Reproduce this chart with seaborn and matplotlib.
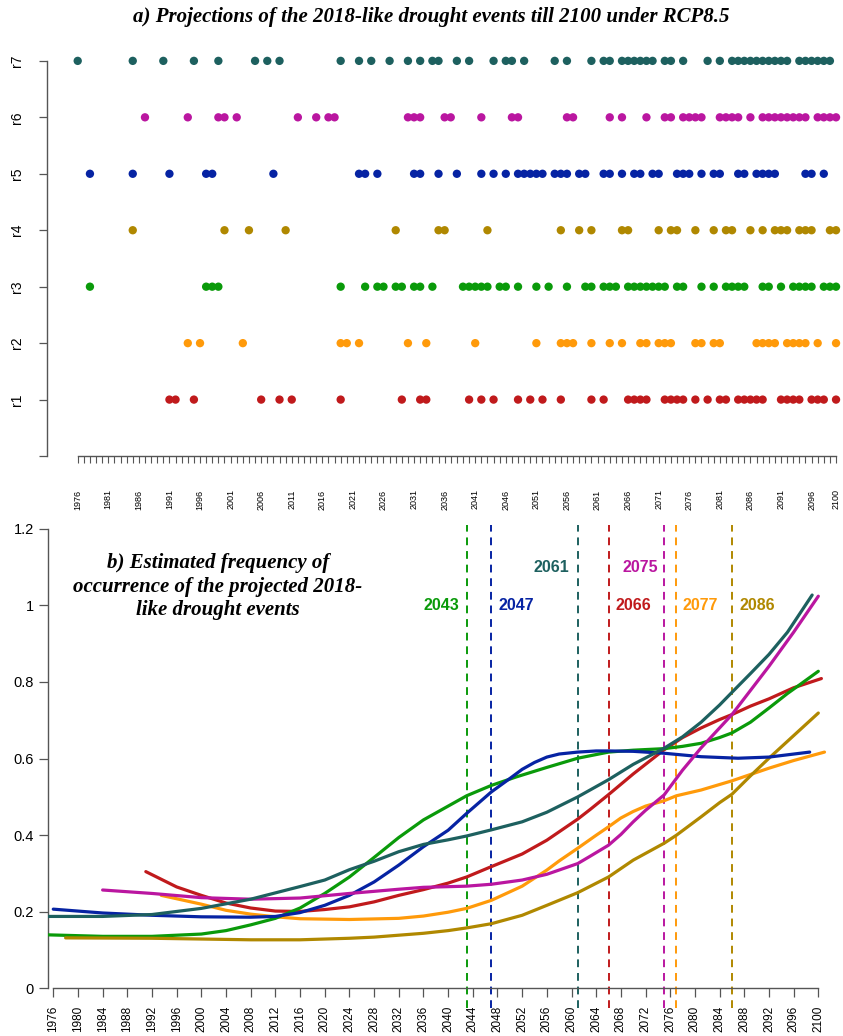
import numpy as np
import pandas as pd
import matplotlib
matplotlib.use("Agg")
import matplotlib.pyplot as plt
import seaborn as sns

sns.set_style("white")
plt.rcParams['font.family'] = ['Liberation Sans', 'DejaVu Sans']
plt.rcParams['text.color'] = 'black'
plt.rcParams['xtick.labelcolor'] = 'black'
plt.rcParams['ytick.labelcolor'] = 'black'

# Years with a 2018-like drought event, one list per run
r1 = [1991, 1992, 1995, 2006, 2009, 2011, 2019, 2029, 2032, 2033, 2040, 2042, 2044, 2048, 2050,
      2052, 2055, 2060, 2062, 2066, 2067, 2068, 2069, 2072, 2073, 2074, 2075, 2077, 2079, 2081,
      2082, 2084, 2085, 2086, 2087, 2088, 2091, 2092, 2093, 2094, 2096, 2097, 2098, 2100]
r2 = [1994, 1996, 2003, 2019, 2020, 2022, 2030, 2033, 2041, 2051, 2055, 2056, 2057, 2060, 2063,
      2065, 2068, 2069, 2071, 2072, 2073, 2077, 2078, 2080, 2081, 2087, 2088, 2089, 2090, 2092,
      2093, 2094, 2095, 2097, 2100]
r3 = [1978, 1997, 1998, 1999, 2019, 2023, 2025, 2026, 2028, 2029, 2031, 2032, 2034, 2039, 2040,
      2041, 2042, 2043, 2045, 2046, 2048, 2051, 2053, 2056, 2059, 2060, 2062, 2063, 2064, 2066,
      2067, 2068, 2069, 2070, 2071, 2072, 2074, 2075, 2078, 2080, 2082, 2083, 2084, 2085, 2088,
      2089, 2091, 2093, 2094, 2095, 2096, 2098, 2099, 2100]
r4 = [1985, 2000, 2004, 2010, 2028, 2035, 2036, 2043, 2055, 2058, 2060, 2065, 2066, 2071, 2073,
      2074, 2077, 2080, 2082, 2083, 2086, 2088, 2090, 2091, 2092, 2094, 2095, 2096, 2099, 2100]
r5 = [1978, 1985, 1991, 1997, 1998, 2008, 2022, 2023, 2025, 2031, 2032, 2035, 2038, 2042, 2044,
      2046, 2048, 2049, 2050, 2051, 2052, 2054, 2055, 2056, 2058, 2059, 2062, 2063, 2065, 2067,
      2068, 2070, 2071, 2074, 2075, 2076, 2078, 2080, 2081, 2084, 2085, 2087, 2088, 2089, 2090,
      2095, 2096, 2098]
r6 = [1987, 1994, 1999, 2000, 2002, 2012, 2015, 2017, 2018, 2030, 2031, 2032, 2036, 2037, 2042,
      2047, 2048, 2056, 2057, 2063, 2065, 2069, 2072, 2073, 2075, 2076, 2077, 2078, 2081, 2082,
      2083, 2084, 2086, 2088, 2089, 2090, 2091, 2092, 2093, 2094, 2095, 2097, 2098, 2099, 2100]
r7 = [1976, 1985, 1990, 1995, 1999, 2005, 2007, 2009, 2019, 2022, 2024, 2027, 2030, 2032, 2034,
      2035, 2038, 2040, 2044, 2046, 2047, 2049, 2054, 2056, 2060, 2062, 2063, 2065, 2066, 2067,
      2068, 2069, 2070, 2072, 2073, 2075, 2079, 2081, 2083, 2084, 2085, 2086, 2087, 2088, 2089,
      2090, 2091, 2092, 2094, 2095, 2096, 2097, 2098, 2099]

# Estimated frequency of occurrence
r1_yr = [1991, 1996, 2000, 2004, 2008, 2012, 2016, 2020, 2024, 2028, 2032, 2036, 2040, 2043, 2047,
         2052, 2056, 2061, 2063, 2066, 2070, 2075, 2078, 2081, 2084, 2086, 2089, 2092, 2096, 2100.5]
r1_fq = [0.305, 0.265, 0.243, 0.223, 0.210, 0.202, 0.201, 0.206, 0.213, 0.226, 0.243, 0.258, 0.275,
         0.291, 0.318, 0.351, 0.387, 0.442, 0.467, 0.506, 0.560, 0.623, 0.655, 0.680, 0.702, 0.715,
         0.737, 0.756, 0.785, 0.809]
r2_yr = [1993.5, 2000, 2004, 2008, 2012, 2016, 2024, 2032, 2036, 2040, 2043, 2047, 2052, 2056, 2058,
         2061, 2064, 2066, 2068, 2070, 2072, 2075, 2077, 2081, 2086, 2092, 2096, 2101]
r2_fq = [0.243, 0.220, 0.204, 0.194, 0.187, 0.182, 0.180, 0.183, 0.189, 0.199, 0.209, 0.230, 0.267,
         0.309, 0.333, 0.366, 0.400, 0.422, 0.445, 0.462, 0.476, 0.490, 0.503, 0.518, 0.542, 0.575,
         0.595, 0.617]
r3_yr = [1975, 1984, 1992, 2000, 2004, 2008, 2012, 2016, 2020, 2024, 2028, 2032, 2036, 2040, 2043,
         2047, 2051, 2056, 2061, 2066, 2070, 2075, 2078, 2081, 2084, 2086, 2089, 2092, 2095, 2097,
         2100]
r3_fq = [0.140, 0.136, 0.136, 0.142, 0.151, 0.166, 0.183, 0.210, 0.248, 0.291, 0.342, 0.394, 0.440,
         0.476, 0.503, 0.530, 0.552, 0.577, 0.601, 0.617, 0.622, 0.626, 0.632, 0.640, 0.655, 0.667,
         0.695, 0.732, 0.770, 0.793, 0.828]
r4_yr = [1978, 1992, 2000, 2008, 2016, 2024, 2028, 2032, 2036, 2040, 2043, 2047, 2052, 2056, 2061,
         2066, 2070, 2075, 2077, 2081, 2084, 2086, 2089, 2092, 2096, 2100]
r4_fq = [0.132, 0.131, 0.129, 0.127, 0.127, 0.131, 0.134, 0.139, 0.144, 0.151, 0.158, 0.169, 0.191,
         0.217, 0.250, 0.291, 0.335, 0.379, 0.400, 0.448, 0.485, 0.507, 0.555, 0.601, 0.660, 0.719]
r5_yr = [1976, 1984, 1992, 2000, 2008, 2012, 2016, 2020, 2024, 2028, 2032, 2036, 2040, 2043, 2047,
         2050, 2052, 2054, 2056, 2058, 2061, 2064, 2066, 2070, 2075, 2081, 2087, 2092, 2098.6]
r5_fq = [0.207, 0.197, 0.191, 0.187, 0.186, 0.188, 0.198, 0.217, 0.243, 0.278, 0.322, 0.370, 0.413,
         0.457, 0.513, 0.548, 0.572, 0.590, 0.604, 0.612, 0.617, 0.620, 0.620, 0.619, 0.614, 0.605,
         0.601, 0.604, 0.617]
r6_yr = [1984, 1992, 2000, 2008, 2016, 2024, 2032, 2036, 2043, 2047, 2052, 2056, 2061, 2063, 2066,
         2068, 2070, 2072, 2075, 2078, 2081, 2086, 2089, 2092, 2096, 2100]
r6_fq = [0.257, 0.248, 0.237, 0.233, 0.236, 0.248, 0.259, 0.264, 0.267, 0.272, 0.283, 0.298, 0.326,
         0.345, 0.374, 0.402, 0.435, 0.465, 0.505, 0.570, 0.628, 0.715, 0.778, 0.841, 0.930, 1.024]
r7_yr = [1975, 1984, 1992, 2000, 2008, 2016, 2020, 2024, 2028, 2032, 2036, 2040, 2043, 2047, 2052,
         2056, 2061, 2066, 2070, 2075, 2078, 2081, 2084, 2086, 2089, 2092, 2095, 2099]
r7_fq = [0.188, 0.188, 0.193, 0.209, 0.233, 0.266, 0.283, 0.310, 0.332, 0.357, 0.376, 0.388, 0.398,
         0.414, 0.435, 0.460, 0.500, 0.545, 0.585, 0.627, 0.657, 0.695, 0.740, 0.773, 0.822, 0.872,
         0.930, 1.027]

# Year each run's frequency reaches 0.5
cross_year = {'r3': 2043, 'r5': 2047, 'r7': 2061, 'r1': 2066, 'r6': 2075, 'r2': 2077, 'r4': 2086}

runs = ['r1', 'r2', 'r3', 'r4', 'r5', 'r6', 'r7']
colors = {'r1': '#C01A1C', 'r2': '#FF9A0A', 'r3': '#0A9A0A', 'r4': '#B08800',
          'r5': '#0623A3', 'r6': '#BA16A0', 'r7': '#1D605F'}

events = {'r1': r1, 'r2': r2, 'r3': r3, 'r4': r4, 'r5': r5, 'r6': r6, 'r7': r7}
curves = {'r1': (r1_yr, r1_fq), 'r2': (r2_yr, r2_fq), 'r3': (r3_yr, r3_fq), 'r4': (r4_yr, r4_fq),
          'r5': (r5_yr, r5_fq), 'r6': (r6_yr, r6_fq), 'r7': (r7_yr, r7_fq)}

ev_df = pd.concat([pd.DataFrame({'run': r, 'year': events[r], 'row': i + 1}) for i, r in enumerate(runs)],
                  ignore_index=True)
cv_df = pd.concat([pd.DataFrame({'run': r, 'year': curves[r][0], 'freq': curves[r][1]}) for r in runs],
                  ignore_index=True)

fig = plt.figure(figsize=(8.43, 10.36), dpi=100)
ax1 = fig.add_axes([0.0554, 0.5598, 0.9446, 0.3967])
ax2 = fig.add_axes([0.0566, 0.0459, 0.9434, 0.4474])

axis_col = '#555555'

# ---- panel a: event dots
sns.scatterplot(data=ev_df, x='year', y='row', hue='run', palette=colors, s=36, linewidth=0,
                legend=False, ax=ax1, zorder=3)
ax1.set_xlim(1970.93, 2101.14)
ax1.set_ylim(0, 7.28)
ax1.set_xlabel('')
ax1.set_ylabel('')
for s in ['top', 'right']:
    ax1.spines[s].set_visible(False)
ax1.spines['left'].set_bounds(0, 7)
ax1.spines['bottom'].set_bounds(1976, 2100)
for s in ['left', 'bottom']:
    ax1.spines[s].set_color(axis_col)
    ax1.spines[s].set_linewidth(1.0)
yrs = np.arange(1976, 2101)
ax1.set_xticks(yrs)
ax1.set_xticklabels([str(y) if ((y - 1976) % 5 == 0 or y == 2100) else '' for y in yrs],
                    rotation=90, fontsize=6.5)
ax1.set_yticks(range(8))
ax1.set_yticklabels([''] + runs, rotation=90, fontsize=10, va='center')
ax1.tick_params(axis='x', direction='out', length=5, width=0.8, color=axis_col, pad=19, bottom=True)
ax1.tick_params(axis='y', direction='out', length=6, width=0.9, color=axis_col, pad=10, left=True)

fig.text(0.512, 1 - 17 / 1036, 'a) Projections of the 2018-like drought events till 2100 under RCP8.5',
         ha='center', va='center', fontsize=15, fontweight='bold', fontstyle='italic',
         family=['Liberation Serif', 'DejaVu Serif'])

# ---- panel b: frequency curves
sns.lineplot(data=cv_df, x='year', y='freq', hue='run', palette=colors, linewidth=2.3,
             estimator=None, sort=True, legend=False, ax=ax2, zorder=3)
ax2.set_xlim(1975.1, 2104)
ax2.set_ylim(0, 1.21)
ax2.set_xlabel('')
ax2.set_ylabel('')
for s in ['top', 'right']:
    ax2.spines[s].set_visible(False)
ax2.spines['left'].set_bounds(0, 1.2)
ax2.spines['bottom'].set_bounds(1976, 2100)
for s in ['left', 'bottom']:
    ax2.spines[s].set_color(axis_col)
    ax2.spines[s].set_linewidth(1.0)
xt = np.arange(1976, 2101, 4)
ax2.set_xticks(xt)
ax2.set_xticklabels([str(y) for y in xt], rotation=90, fontsize=8.5,
                    family=['Liberation Sans Narrow', 'Liberation Sans', 'DejaVu Sans'])
yt = [0, 0.2, 0.4, 0.6, 0.8, 1.0, 1.2]
ax2.set_yticks(yt)
ax2.set_yticklabels(['0', '0.2', '0.4', '0.6', '0.8', '1', '1.2'], fontsize=10.5)
ax2.tick_params(axis='x', direction='out', length=6.5, width=0.9, color=axis_col, pad=6, bottom=True)
ax2.tick_params(axis='y', direction='out', length=6.5, width=0.9, color=axis_col, pad=3.5, left=True)

# dashed year markers and their labels
label_pos = {'r3': (-1.25, 1.0, 'right'), 'r5': (1.1, 1.0, 'left'), 'r7': (-1.3, 1.1, 'right'),
             'r1': (1.1, 1.0, 'left'), 'r6': (-1.0, 1.1, 'right'), 'r2': (1.0, 1.0, 'left'),
             'r4': (1.2, 1.0, 'left')}
for r, yr in cross_year.items():
    ax2.plot([yr, yr], [-0.05, 1.21], color=colors[r], lw=1.4, ls=(0, (4, 3)), clip_on=False, zorder=2)
    dx, ty, ha = label_pos[r]
    ax2.text(yr + dx, ty, str(yr), color=colors[r], ha=ha, va='center', fontsize=11.5, fontweight='bold')

fig.text(218 / 843, 1 - 586.7 / 1036,
         'b) Estimated frequency of\noccurrence of the projected 2018-\nlike drought events',
         ha='center', va='center', multialignment='center', linespacing=1.22,
         fontsize=15, fontweight='bold', fontstyle='italic', family=['Liberation Serif', 'DejaVu Serif'])

fig.savefig('out.png', dpi=100)
